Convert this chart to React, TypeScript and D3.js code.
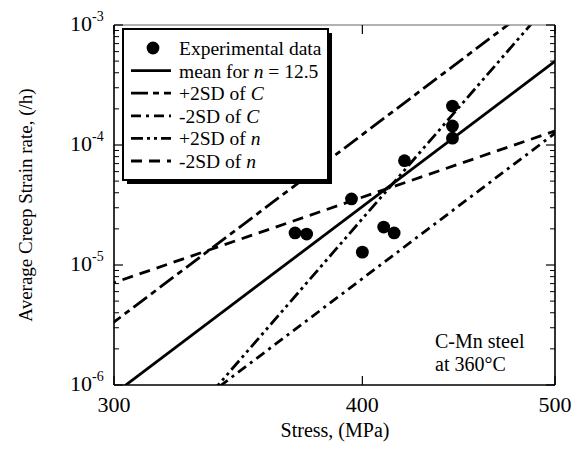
import React from "react";
import * as d3 from "d3";

const stressData = [370, 375, 395, 400, 410, 415, 420, 444, 444, 444];
const rateData = [1.85e-5, 1.81e-5, 3.55e-5, 1.28e-5, 2.07e-5, 1.85e-5, 7.4e-5, 2.11e-4, 1.44e-4, 1.14e-4];

// fitted lines: rate at 400 MPa, and stress exponent n
const lineNames = ["mean for n = 12.5", "+2SD of C", "-2SD of C", "+2SD of n", "-2SD of n"];
const lineRateAt400 = [3.07e-5, 1.22e-4, 7.7e-6, 2.43e-5, 3.67e-5];
const lineN = [12.5, 12.5, 12.5, 19.1, 5.7];
const lineDash = ["", "17,5,6,5", "10,5,3,5", "12,4,3,4,3,4", "11,7"];

const xTicks = [300, 400, 500];
const yTicks = [1e-6, 1e-5, 1e-4, 1e-3];
const yTickExp = ["-6", "-5", "-4", "-3"];

const W = 571, H = 449;
const L = 114, R = 555, T = 25, B = 385;
const FONT = "'Liberation Serif', 'Times New Roman', serif";

export default function App() {
  const x = d3.scaleLog().domain([300, 500]).range([L, R]);
  const y = d3.scaleLog().domain([1e-6, 1e-3]).range([B, T]);
  const lineGen = d3.line<[number, number]>().x((d) => x(d[0])).y((d) => y(d[1]));

  const minor: number[] = [];
  for (let e = -6; e < -3; e++) for (let k = 2; k <= 9; k++) minor.push(k * Math.pow(10, e));

  const legendItems = ["Experimental data", ...lineNames];
  const lx = 123, ly = 29, lw = 205, lh = 151;
  const rowY = (i: number) => 48 + i * 22.6;

  const renderLabel = (s: string) => {
    const m = s.match(/^(.*?)(n|C)( = 12\.5)?$/);
    if (!m) return s;
    return (
      <>
        {m[1]}
        <tspan fontStyle="italic">{m[2]}</tspan>
        {m[3] || ""}
      </>
    );
  };

  return (
    <svg width={W} height={H} style={{ position: "absolute", left: 0, top: 0 }} fontFamily={FONT}>
      <rect x={0} y={0} width={W} height={H} fill="#fff" />
      <defs>
        <clipPath id="plot">
          <rect x={L} y={T} width={R - L} height={B - T} />
        </clipPath>
      </defs>
      {/* lines */}
      <g clipPath="url(#plot)">
        {lineNames.map((nm, i) => {
          const pts: [number, number][] = [280, 520].map((s) => [s, lineRateAt400[i] * Math.pow(s / 400, lineN[i])]);
          return (
            <path key={nm} d={lineGen(pts) || ""} fill="none" stroke="#000" strokeWidth={2.8}
              strokeDasharray={lineDash[i] || undefined} />
          );
        })}
        {stressData.map((s, i) => (
          <circle key={i} cx={x(s)} cy={y(rateData[i])} r={6.4} fill="#000" />
        ))}
      </g>
      {/* frame */}
      <line x1={L} x2={R} y1={T} y2={T} stroke="#666" strokeWidth={1.2} />
      <line x1={L} x2={L} y1={T} y2={B} stroke="#000" strokeWidth={1.6} />
      <line x1={R} x2={R} y1={T} y2={B} stroke="#000" strokeWidth={1.6} />
      <line x1={L} x2={R} y1={B} y2={B} stroke="#000" strokeWidth={1.6} />
      {/* y ticks */}
      {yTicks.map((v) => (
        <g key={v}>
          <line x1={L} x2={L + 9} y1={y(v)} y2={y(v)} stroke="#000" strokeWidth={1.2} />
          <line x1={R} x2={R - 9} y1={y(v)} y2={y(v)} stroke="#000" strokeWidth={1.2} />
        </g>
      ))}
      {minor.map((v) => (
        <g key={v}>
          <line x1={L} x2={L + 5} y1={y(v)} y2={y(v)} stroke="#000" strokeWidth={1} />
          <line x1={R} x2={R - 5} y1={y(v)} y2={y(v)} stroke="#000" strokeWidth={1} />
        </g>
      ))}
      {xTicks.map((v) => (
        <g key={v}>
          <line x1={x(v)} x2={x(v)} y1={B} y2={B - 9} stroke="#000" strokeWidth={1.2} />
          <line x1={x(v)} x2={x(v)} y1={T} y2={T + 9} stroke="#000" strokeWidth={1.2} />
          <text x={x(v)} y={412} textAnchor="middle" fontSize={22}>{v}</text>
        </g>
      ))}
      {yTicks.map((v, i) => (
        <text key={v} x={70} y={y(v) + 6} fontSize={22}>
          10<tspan dy={-10} fontSize={14}>{yTickExp[i]}</tspan>
        </text>
      ))}
      {/* axis titles */}
      <text x={335} y={437} textAnchor="middle" fontSize={20}>Stress, (MPa)</text>
      <text transform={`translate(32,205) rotate(-90)`} textAnchor="middle" fontSize={19}>
        Average Creep Strain rate, (/h)
      </text>
      {/* annotation */}
      <text x={435} y={348} fontSize={20}>C-Mn steel</text>
      <text x={435} y={371} fontSize={20}>at 360°C</text>
      {/* legend */}
      <rect x={lx + 4} y={ly + 4} width={lw} height={lh} fill="#000" />
      <rect x={lx} y={ly} width={lw} height={lh} fill="#fff" stroke="#000" strokeWidth={2} />
      {legendItems.map((nm, i) => (
        <g key={nm}>
          {i === 0 ? (
            <circle cx={153} cy={rowY(i)} r={6.4} fill="#000" />
          ) : (
            <line x1={131} x2={171} y1={rowY(i)} y2={rowY(i)} stroke="#000" strokeWidth={2.8}
              strokeDasharray={lineDash[i - 1] || undefined} />
          )}
          <text x={179} y={rowY(i) + 7} fontSize={19.5}>{renderLabel(nm)}</text>
        </g>
      ))}
    </svg>
  );
}
